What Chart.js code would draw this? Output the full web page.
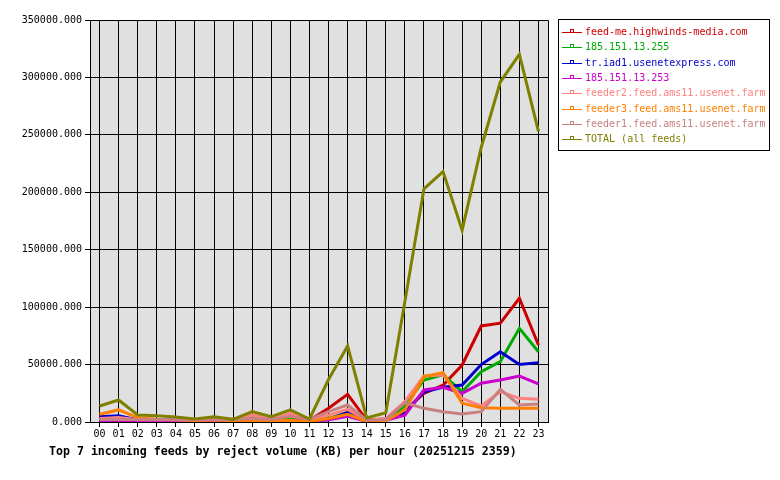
<!DOCTYPE html>
<html>
<head>
<meta charset="utf-8">
<script src="https://cdn.jsdelivr.net/npm/chart.js@4.4.1/dist/chart.umd.min.js"></script>
<style>
  html, body { margin: 0; padding: 0; background: #fff; }
</style>
</head>
<body>
<canvas id="feedChart" width="780" height="480"></canvas>
<script>
var hours = ["00","01","02","03","04","05","06","07","08","09","10","11",
             "12","13","14","15","16","17","18","19","20","21","22","23"];

var feedNames = [
    "feed-me.highwinds-media.com",
    "185.151.13.255",
    "tr.iad1.usenetexpress.com",
    "185.151.13.253",
    "feeder2.feed.ams11.usenet.farm",
    "feeder3.feed.ams11.usenet.farm",
    "feeder1.feed.ams11.usenet.farm",
    "TOTAL (all feeds)"
];
var feedColors = ["#cc0000", "#00aa00", "#0000cc", "#cc00cc", "#ff8080", "#ff8000", "#c88080", "#808000"];
var chartTitle = "Top 7 incoming feeds by reject volume (KB) per hour (20251215 2359)";

// reject volume in KB per hour
var highwinds  = [5000, 3000, 2000, 2000, 2000, 1500, 3000, 1500, 6000, 2000, 4000, 1500, 11900, 24100, 1700, 2600, 10000, 25000, 32000, 49600, 83600, 86000, 107700, 67000];
var ip255      = [2000, 2500, 1500, 1500, 1500, 1000, 1500, 1000, 5000, 1500, 3000, 1000, 3000, 8400, 1000, 2000, 14000, 36600, 41000, 26400, 43800, 52500, 81600, 61200];
var usenetexp  = [4600, 5500, 1700, 1000, 1000, 800, 1000, 800, 1200, 800, 1200, 800, 2000, 8400, 1000, 2000, 8000, 26400, 30200, 32200, 50000, 61200, 50000, 51700];
var ip253      = [1000, 1000, 800, 800, 800, 600, 800, 600, 1000, 600, 1000, 600, 2000, 5000, 500, 1500, 6000, 27900, 30200, 25000, 33700, 36600, 40000, 33100];
var feeder2    = [3000, 4000, 2000, 2000, 2000, 1500, 2000, 1500, 6000, 2000, 7800, 1500, 6000, 11000, 1500, 3000, 17700, 40000, 41000, 20600, 13900, 26400, 20600, 19800];
var feeder3    = [6700, 10500, 3800, 2500, 2000, 1500, 2000, 1000, 1500, 1000, 1500, 500, 3000, 6700, 500, 1000, 10500, 39500, 43000, 16300, 12500, 12000, 12000, 12000];
var feeder1    = [2200, 2200, 2200, 2200, 2200, 2200, 2200, 2200, 3000, 2200, 5000, 2200, 9000, 14800, 1700, 2000, 16800, 11900, 9000, 7000, 9000, 28500, 14800, 15700];
var totalFeeds = [13900, 19200, 6100, 5500, 4400, 2600, 4600, 2300, 9000, 4600, 10500, 2600, 37000, 66200, 3600, 8000, 105000, 203000, 218000, 167000, 239000, 296000, 320000, 253000];

var seriesData = [highwinds, ip255, usenetexp, ip253, feeder2, feeder3, feeder1, totalFeeds];

var monoFont = "'DejaVu Sans Mono', 'Liberation Mono', monospace";

var datasets = seriesData.map(function (vals, i) {
    return {
        label: feedNames[i],
        data: vals,
        borderColor: feedColors[i],
        backgroundColor: feedColors[i],
        borderWidth: 3,
        pointRadius: 0,
        tension: 0,
        fill: false,
        order: seriesData.length - i   // later feeds drawn on top
    };
});

// grey plot background + top/right frame
var plotFrame = {
    id: "plotFrame",
    beforeDraw: function (chart) {
        var a = chart.chartArea, c = chart.ctx;
        c.save();
        c.fillStyle = "#e0e0e0";
        c.fillRect(a.left, a.top, a.right - a.left, a.bottom - a.top);
        c.restore();
    },
    afterDraw: function (chart) {
        var a = chart.chartArea, c = chart.ctx;
        c.save();
        c.strokeStyle = "#000";
        c.lineWidth = 1;
        c.beginPath();
        c.moveTo(a.left, Math.round(a.top) + 0.5);
        c.lineTo(Math.round(a.right) + 0.5, Math.round(a.top) + 0.5);
        c.lineTo(Math.round(a.right) + 0.5, a.bottom);
        c.stroke();
        // title under the x axis, left aligned like the original
        c.fillStyle = "#000";
        c.font = "bold 11.6px " + monoFont;
        c.textBaseline = "middle";
        c.fillText(chartTitle, 49, a.bottom + 30);
        c.restore();
    }
};

// boxed legend at the right with coloured text
var boxLegend = {
    id: "boxLegend",
    afterDraw: function (chart) {
        var c = chart.ctx;
        var x0 = chart.chartArea.right + 10, y0 = 19;
        c.save();
        c.strokeStyle = "#000";
        c.lineWidth = 1;
        c.strokeRect(x0 + 0.5, y0 + 0.5, 211, 131);
        c.font = "10px " + monoFont;
        c.textBaseline = "middle";
        chart.data.datasets.forEach(function (ds, i) {
            var y = Math.round(y0 + 13 + i * 15.3) + 0.5;
            c.strokeStyle = ds.borderColor;
            c.beginPath();
            c.moveTo(x0 + 4, y);
            c.lineTo(x0 + 24, y);
            c.stroke();
            c.strokeRect(x0 + 12.5, y - 3, 3, 3);
            c.fillStyle = ds.borderColor;
            c.fillText(ds.label, x0 + 27, y);
        });
        c.restore();
    }
};

var feedChart = new Chart(document.getElementById("feedChart"), {
    type: "line",
    data: {
        labels: hours,
        datasets: datasets
    },
    plugins: [plotFrame, boxLegend],
    options: {
        responsive: false,
        animation: false,
        devicePixelRatio: 1,
        layout: {
            padding: { left: 0, top: 20, right: 232, bottom: 40 }
        },
        plugins: {
            legend: { display: false },
            tooltip: { enabled: false },
            title: { display: false }
        },
        scales: {
            x: {
                type: "category",
                offset: true,
                grid: { offset: false, color: "#000", lineWidth: 1, tickLength: 5, drawTicks: true },
                border: { color: "#000", width: 1 },
                ticks: {
                    color: "#000",
                    autoSkip: false,
                    maxRotation: 0,
                    padding: 1,
                    font: { family: monoFont, size: 10 }
                },
                afterFit: function (scale) { scale.height = 18; }
            },
            y: {
                min: 0,
                max: 350000,
                grid: { color: "#000", lineWidth: 1, tickLength: 5, drawTicks: true },
                border: { color: "#000", width: 1 },
                ticks: {
                    stepSize: 50000,
                    color: "#000",
                    padding: 3,
                    font: { family: monoFont, size: 10 },
                    callback: function (value) {
                        return value.toFixed(3);
                    }
                },
                afterFit: function (scale) { scale.width = 90; }
            }
        }
    }
});
</script>
</body>
</html>
